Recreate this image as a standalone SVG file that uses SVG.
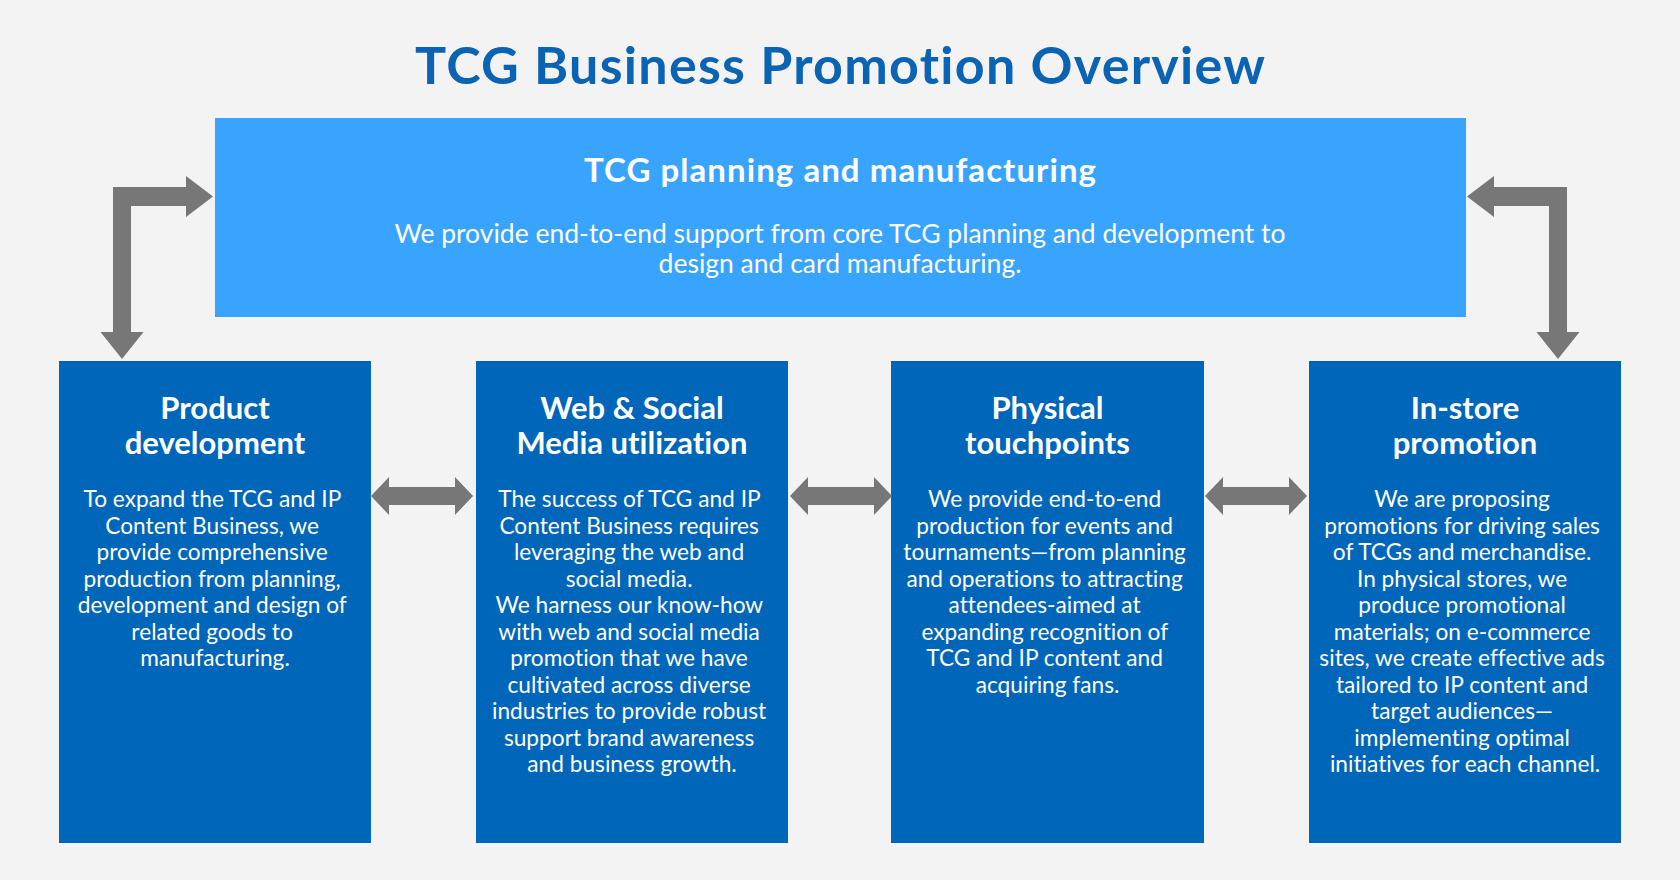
<svg xmlns="http://www.w3.org/2000/svg" xmlns:xlink="http://www.w3.org/1999/xlink" width="1680" height="880" viewBox="0 0 1680 880">
<style>
text{font-variant-ligatures:none;font-feature-settings:"liga" 0,"clig" 0}
.bg{fill:#f3f3f3}
.title{font-family:Lato,"Open Sans","Liberation Sans",sans-serif;font-weight:700;font-size:52px;fill:#0a63b3;text-anchor:middle}
.top{fill:#38a4fd}
.box{fill:#0066ba}
.h{font-family:Lato,"Open Sans","Liberation Sans",sans-serif;font-weight:700;fill:#ffffff;text-anchor:middle}
.b{font-family:Lato,"Open Sans","Liberation Sans",sans-serif;font-weight:400;fill:#ffffff;text-anchor:middle}
.h1{font-size:33px}
.b1{font-size:26.5px}
.h2{font-size:31px}
.b2{font-size:22.7px}
.arr{fill:#777777}
</style>
<defs>
<path id="dbl" d="M0,0 L18,-19 L18,-9 L84,-9 L84,-19 L102,0 L84,19 L84,9 L18,9 L18,19 Z"/>
</defs>
<rect class="bg" x="0" y="0" width="1680" height="880"/>
<text class="title" x="840" y="84" textLength="850" lengthAdjust="spacing">TCG Business Promotion Overview</text>

<g id="planning">
<rect class="top" x="215" y="118" width="1251" height="199"/>
<text class="h h1" x="840" y="182" textLength="512" lengthAdjust="spacing">TCG planning and manufacturing</text>
<text class="b b1" x="840" y="243">We provide end-to-end support from core TCG planning and development to</text>
<text class="b b1" x="840" y="273">design and card manufacturing.</text>
</g>

<g id="product">
<rect class="box" x="59" y="361" width="312" height="482"/>
<text class="h h2" x="215" y="419">Product</text>
<text class="h h2" x="215" y="454">development</text>
<text class="b b2" x="215" y="507">
<tspan x="215" dy="0">To expand the TCG and IP</tspan>
<tspan x="215" dy="26.5">Content Business, we</tspan>
<tspan x="215" dy="26.5">provide comprehensive</tspan>
<tspan x="215" dy="26.5">production from planning,</tspan>
<tspan x="215" dy="26.5">development and design of</tspan>
<tspan x="215" dy="26.5">related goods to</tspan>
<tspan x="215" dy="26.5">manufacturing.</tspan>
</text>
</g>

<g id="web">
<rect class="box" x="476" y="361" width="312" height="482"/>
<text class="h h2" x="632" y="419">Web &amp; Social</text>
<text class="h h2" x="632" y="454">Media utilization</text>
<text class="b b2" x="632" y="507">
<tspan x="632" dy="0">The success of TCG and IP</tspan>
<tspan x="632" dy="26.5">Content Business requires</tspan>
<tspan x="632" dy="26.5">leveraging the web and</tspan>
<tspan x="632" dy="26.5">social media.</tspan>
<tspan x="632" dy="26.5">We harness our know-how</tspan>
<tspan x="632" dy="26.5">with web and social media</tspan>
<tspan x="632" dy="26.5">promotion that we have</tspan>
<tspan x="632" dy="26.5">cultivated across diverse</tspan>
<tspan x="632" dy="26.5">industries to provide robust</tspan>
<tspan x="632" dy="26.5">support brand awareness</tspan>
<tspan x="632" dy="26.5">and business growth.</tspan>
</text>
</g>

<g id="physical">
<rect class="box" x="891" y="361" width="313" height="482"/>
<text class="h h2" x="1047.5" y="419">Physical</text>
<text class="h h2" x="1047.5" y="454">touchpoints</text>
<text class="b b2" x="1047.5" y="507">
<tspan x="1047.5" dy="0">We provide end-to-end</tspan>
<tspan x="1047.5" dy="26.5">production for events and</tspan>
<tspan x="1047.5" dy="26.5">tournaments—from planning</tspan>
<tspan x="1047.5" dy="26.5">and operations to attracting</tspan>
<tspan x="1047.5" dy="26.5">attendees-aimed at</tspan>
<tspan x="1047.5" dy="26.5">expanding recognition of</tspan>
<tspan x="1047.5" dy="26.5">TCG and IP content and</tspan>
<tspan x="1047.5" dy="26.5">acquiring fans.</tspan>
</text>
</g>

<g id="instore">
<rect class="box" x="1309" y="361" width="312" height="482"/>
<text class="h h2" x="1465" y="419">In-store</text>
<text class="h h2" x="1465" y="454">promotion</text>
<text class="b b2" x="1465" y="507">
<tspan x="1465" dy="0">We are proposing</tspan>
<tspan x="1465" dy="26.5">promotions for driving sales</tspan>
<tspan x="1465" dy="26.5">of TCGs and merchandise.</tspan>
<tspan x="1465" dy="26.5">In physical stores, we</tspan>
<tspan x="1465" dy="26.5">produce promotional</tspan>
<tspan x="1465" dy="26.5">materials; on e-commerce</tspan>
<tspan x="1465" dy="26.5">sites, we create effective ads</tspan>
<tspan x="1465" dy="26.5">tailored to IP content and</tspan>
<tspan x="1465" dy="26.5">target audiences—</tspan>
<tspan x="1465" dy="26.5">implementing optimal</tspan>
<tspan x="1465" dy="26.5">initiatives for each channel.</tspan>
</text>
</g>

<g id="connectors">
<path class="arr" d="M113,187 L186,187 L186,176 L213,196.5 L186,217 L186,206 L131,206 L131,332 L143.5,332 L122,359 L100.5,332 L113,332 Z"/>
<path class="arr" d="M1567,187 L1494,187 L1494,176 L1467,196.5 L1494,217 L1494,206 L1549,206 L1549,332 L1536.5,332 L1558,359 L1579.5,332 L1567,332 Z"/>
<use class="arr" xlink:href="#dbl" x="371" y="496"/>
<use class="arr" xlink:href="#dbl" x="790" y="496"/>
<use class="arr" xlink:href="#dbl" x="1205" y="496"/>
</g>
</svg>
